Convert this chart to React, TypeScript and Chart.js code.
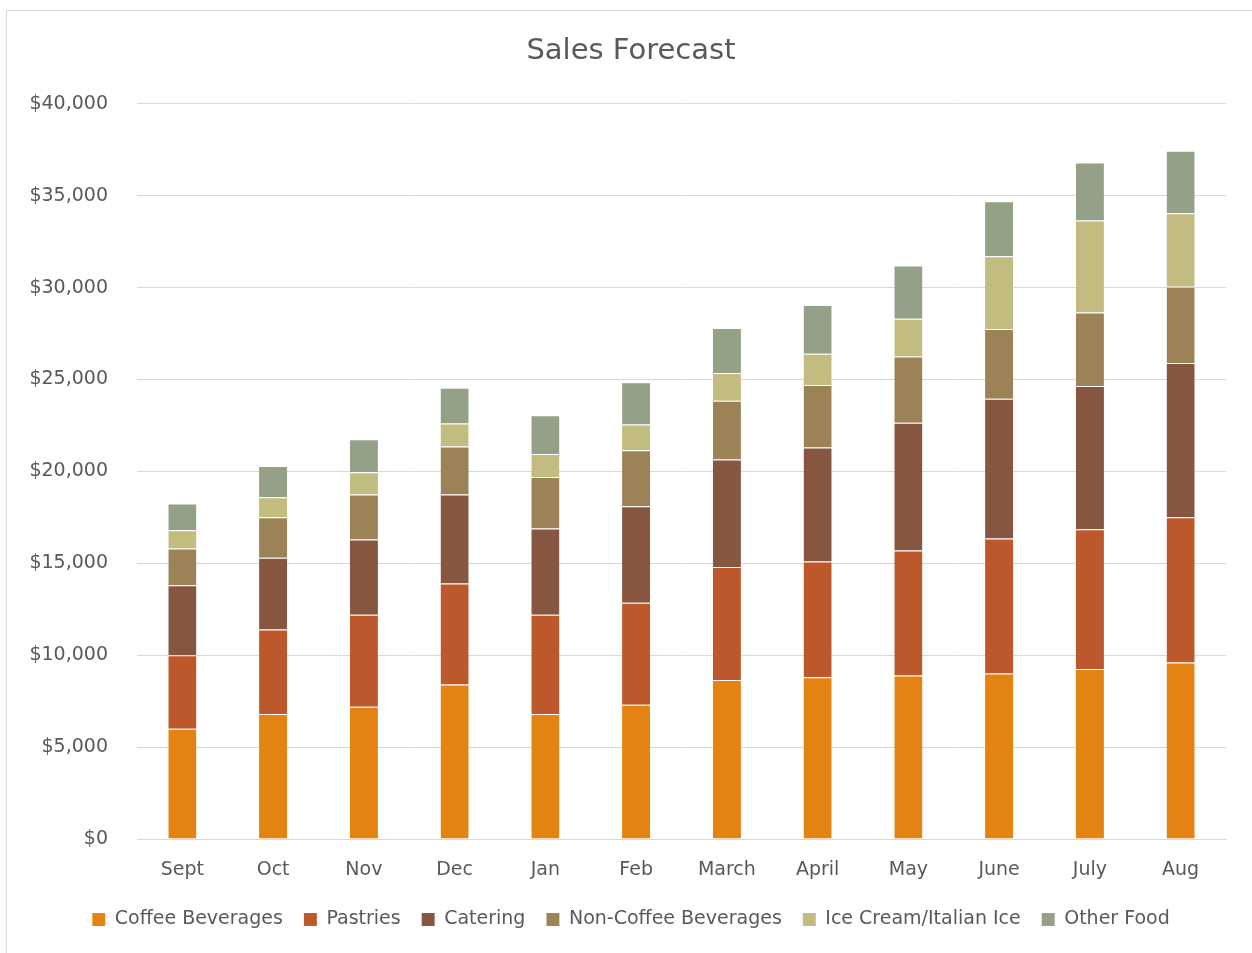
import React, { useEffect, useRef } from "react";
import { Chart, registerables } from "chart.js";

Chart.register(...registerables);

const months = ["Sept", "Oct", "Nov", "Dec", "Jan", "Feb", "March", "April", "May", "June", "July", "Aug"];
const coffeeBeverages = [6000, 6800, 7200, 8400, 6800, 7300, 8650, 8800, 8900, 9000, 9250, 9600];
const pastries = [4000, 4600, 5000, 5500, 5400, 5550, 6150, 6300, 6800, 7350, 7600, 7900];
const catering = [3800, 3900, 4100, 4850, 4700, 5250, 5850, 6200, 6950, 7600, 7800, 8400];
const nonCoffeeBeverages = [2000, 2200, 2450, 2600, 2800, 3050, 3200, 3400, 3600, 3800, 4000, 4150];
const iceCream = [1000, 1100, 1200, 1250, 1250, 1400, 1500, 1700, 2050, 3950, 5000, 4000];
const otherFood = [1450, 1700, 1800, 1950, 2100, 2300, 2450, 2650, 2900, 3000, 3150, 3400];

const seriesNames = ["Coffee Beverages", "Pastries", "Catering", "Non-Coffee Beverages", "Ice Cream/Italian Ice", "Other Food"];
const seriesColors = ["#E48312", "#BD582C", "#865640", "#9B8357", "#C2BC80", "#94A088"];
const seriesValues = [coffeeBeverages, pastries, catering, nonCoffeeBeverages, iceCream, otherFood];

const FONT = "'DejaVu Sans', sans-serif";
const TEXT = "#595959";

export default function App() {
  const ref = useRef<HTMLCanvasElement | null>(null);
  useEffect(() => {
    if (!ref.current) return;
    const chart = new Chart(ref.current, {
      type: "bar",
      data: {
        labels: months,
        datasets: seriesValues.map((vals, i) => ({
          label: seriesNames[i],
          data: vals,
          backgroundColor: seriesColors[i],
          borderColor: "rgba(255,255,255,0.35)",
          borderWidth: { top: 1, left: 0, right: 0, bottom: 0 },
          borderSkipped: false,
          categoryPercentage: 1,
          barPercentage: 0.31,
        })),
      },
      options: {
        animation: false,
        responsive: false,
        maintainAspectRatio: false,
        layout: { padding: { left: 10, right: 0, top: 0, bottom: 14 } },
        plugins: {
          title: {
            display: true,
            text: "Sales Forecast",
            color: TEXT,
            font: { family: FONT, size: 29, weight: "normal" },
            padding: { top: 34, bottom: 35 },
          },
          legend: {
            position: "bottom",
            labels: {
              color: TEXT,
              font: { family: FONT, size: 19 },
              boxWidth: 13,
              boxHeight: 13,
              padding: 21,
            },
          },
          tooltip: { enabled: false },
        },
        scales: {
          x: {
            stacked: true,
            afterFit: (scale: any) => {
              scale.height = 50;
            },
            grid: { display: false, drawTicks: false },
            border: { display: true, color: "#d9d9d9", width: 1 },
            ticks: { color: TEXT, font: { family: FONT, size: 19 }, padding: 20 },
          },
          y: {
            stacked: true,
            min: 0,
            max: 40000,
            afterFit: (scale: any) => {
              scale.width = 127;
            },
            grid: { color: "#d9d9d9", lineWidth: 1, drawTicks: false },
            border: { display: false },
            ticks: {
              stepSize: 5000,
              color: TEXT,
              font: { family: FONT, size: 19 },
              padding: 29,
              callback: (v: any) => "$" + Number(v).toLocaleString("en-US"),
            },
          },
          yRight: {
            position: "right",
            display: true,
            afterFit: (scale: any) => {
              scale.width = 26;
            },
            grid: { display: false, drawTicks: false },
            border: { display: false },
            ticks: { display: false },
          },
        },
      },
    });
    return () => chart.destroy();
  }, []);
  return (
    <div style={{ position: "absolute", left: 0, top: 0, width: 1252, height: 953, background: "#fff", overflow: "hidden" }}>
      <div
        style={{
          position: "absolute",
          left: 6,
          top: 10,
          width: 1260,
          height: 960,
          borderTop: "1px solid #d9d9d9",
          borderLeft: "1px solid #d9d9d9",
        }}
      />
      <canvas ref={ref} width={1252} height={953} style={{ position: "absolute", left: 0, top: 0 }} />
    </div>
  );
}
